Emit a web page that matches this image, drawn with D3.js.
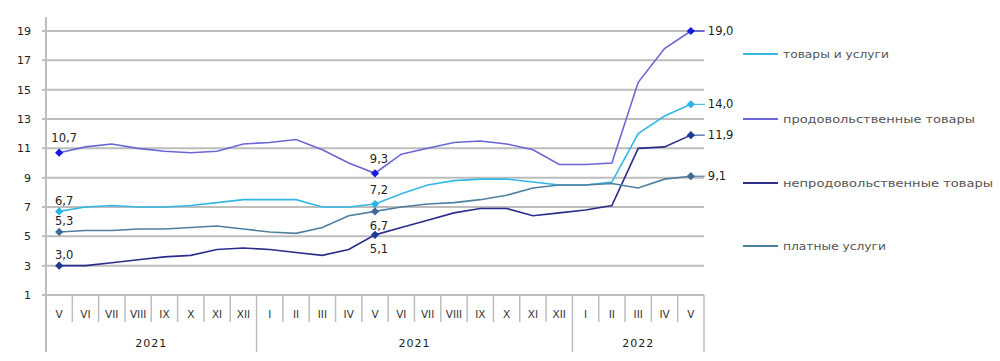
<!DOCTYPE html>
<html>
<head>
<meta charset="utf-8">
<script src="https://cdn.jsdelivr.net/npm/d3@7"></script>
<style>
  html, body { margin: 0; padding: 0; background: #fff; }
  svg { display: block; font-family: "DejaVu Sans", Verdana, sans-serif; }
</style>
</head>
<body>
<svg id="chart" width="1000" height="361"></svg>
<script>
// ---- data ----
const months = ["V","VI","VII","VIII","IX","X","XI","XII","I","II","III","IV","V","VI","VII","VIII","IX","X","XI","XII","I","II","III","IV","V"];
const yearLabels = ["2021", "2021", "2022"];
const yearSpans = [8, 12, 5];
const yTicks = [1, 3, 5, 7, 9, 11, 13, 15, 17, 19];

const seriesNames = ["товары и услуги", "продовольственные товары", "непродовольственные товары", "платные услуги"];
const goodsServices = [6.7, 7.0, 7.1, 7.0, 7.0, 7.1, 7.3, 7.5, 7.5, 7.5, 7.0, 7.0, 7.2, 7.9, 8.5, 8.8, 8.9, 8.9, 8.7, 8.5, 8.5, 8.7, 12.0, 13.2, 14.0];
const food = [10.7, 11.1, 11.3, 11.0, 10.8, 10.7, 10.8, 11.3, 11.4, 11.6, 10.9, 10.0, 9.3, 10.6, 11.0, 11.4, 11.5, 11.3, 10.9, 9.9, 9.9, 10.0, 15.5, 17.8, 19.0];
const nonFood = [3.0, 3.0, 3.2, 3.4, 3.6, 3.7, 4.1, 4.2, 4.1, 3.9, 3.7, 4.1, 5.1, 5.6, 6.1, 6.6, 6.9, 6.9, 6.4, 6.6, 6.8, 7.1, 11.0, 11.1, 11.9];
const paidServices = [5.3, 5.4, 5.4, 5.5, 5.5, 5.6, 5.7, 5.5, 5.3, 5.2, 5.6, 6.4, 6.7, 7.0, 7.2, 7.3, 7.5, 7.8, 8.3, 8.5, 8.5, 8.6, 8.3, 8.9, 9.1];
const labelledIdx = [0, 12, 24];

// ---- styles ----
const lineColors = ["#33b8e6", "#6a66d6", "#2c2c8c", "#4f7f9f"];
const markerColors = ["#2ab4ea", "#1a1ae0", "#1a3a94", "#3d6b96"];
// label placement per series for the middle point: above (-1) or below (+1)
const midSide = [-1, -1, 1, 1];

const svg = d3.select("#chart");
const values = [goodsServices, food, nonFood, paidServices];

const x = d3.scaleBand().domain(d3.range(months.length)).range([46, 704]).padding(0);
const y = d3.scaleLinear().domain([1, 19]).range([295, 31]);
const cx = i => x(i) + x.bandwidth() / 2;

// grid lines
svg.append("g").selectAll("line").data(yTicks).join("line")
  .attr("x1", 42).attr("x2", 704)
  .attr("y1", d => y(d)).attr("y2", d => y(d))
  .attr("stroke", "#bdbdbd").attr("stroke-width", 2);

// y axis labels
svg.append("g").selectAll("text").data(yTicks).join("text")
  .attr("x", 31).attr("y", d => y(d)).attr("dy", "0.36em")
  .attr("text-anchor", "end").attr("font-size", 11).attr("fill", "#222")
  .text(d => d);

// y axis line
svg.append("line").attr("x1", 46).attr("x2", 46).attr("y1", 17).attr("y2", 352)
  .attr("stroke", "#bdbdbd").attr("stroke-width", 2);

// category separators
const bounds = d3.range(1, months.length + 1);
const groupEnds = d3.cumsum(yearSpans);
svg.append("g").selectAll("line").data(bounds).join("line")
  .attr("x1", k => x(k - 1) + x.bandwidth()).attr("x2", k => x(k - 1) + x.bandwidth())
  .attr("y1", 295)
  .attr("y2", k => groupEnds.includes(k) ? 352 : 322)
  .attr("stroke", "#bdbdbd").attr("stroke-width", 1.5);

// month labels
svg.append("g").selectAll("text").data(months).join("text")
  .attr("x", (d, i) => cx(i)).attr("y", 314).attr("dy", "0.36em")
  .attr("text-anchor", "middle").attr("font-size", 10.5).attr("fill", "#333")
  .text(d => d);

// year labels
const groupStarts = [0, ...groupEnds.slice(0, -1)];
svg.append("g").selectAll("text").data(yearLabels).join("text")
  .attr("x", (d, g) => (x(groupStarts[g]) + x(groupEnds[g] - 1) + x.bandwidth()) / 2)
  .attr("y", 343).attr("dy", "0.36em")
  .attr("text-anchor", "middle").attr("font-size", 11).attr("fill", "#222")
  .attr("letter-spacing", 1)
  .text(d => d);

// lines
const line = d3.line().x((d, i) => cx(i)).y(d => y(d));
values.forEach((vals, s) => {
  svg.append("path").datum(vals).attr("d", line)
    .attr("fill", "none").attr("stroke", lineColors[s]).attr("stroke-width", 1.6);
});

// markers & labels
const diamond = d3.symbol().type(d3.symbolSquare).size(34);
const fmt = v => d3.format(".1f")(v).replace(".", ",");
values.forEach((vals, s) => {
  // leader tick to the right label
  svg.append("line")
    .attr("x1", cx(24)).attr("x2", cx(24) + 14)
    .attr("y1", y(vals[24])).attr("y2", y(vals[24]))
    .attr("stroke", markerColors[s]).attr("stroke-width", 1);
  svg.append("g").selectAll("path").data(labelledIdx).join("path")
    .attr("d", diamond)
    .attr("transform", i => `translate(${cx(i)},${y(vals[i])}) rotate(45)`)
    .attr("fill", markerColors[s]);
  svg.append("g").selectAll("text").data(labelledIdx).join("text")
    .attr("x", i => i === 24 ? cx(i) + 17 : (i === 0 ? cx(i) + 5 : cx(i) + 4))
    .attr("y", i => {
      if (i === 24) return y(vals[i]);
      if (i === 0) return y(vals[i]) - (s === 1 ? 15 : 11);
      return y(vals[i]) + midSide[s] * 14;
    })
    .attr("dy", "0.36em")
    .attr("text-anchor", i => i === 24 ? "start" : "middle")
    .attr("font-size", 11.5).attr("fill", "#222")
    .text(i => fmt(vals[i]));
});

// legend
const legendY = [54, 119, 183, 246];
const legendW = [106, 192, 210, 103];
const leg = svg.append("g").selectAll("g").data(seriesNames).join("g")
  .attr("transform", (d, i) => `translate(743,${legendY[i]})`);
leg.append("line").attr("x1", 0).attr("x2", 35).attr("y1", 0).attr("y2", 0)
  .attr("stroke", (d, i) => lineColors[i]).attr("stroke-width", 2);
leg.append("text").attr("x", 40).attr("dy", "0.36em")
  .attr("font-size", 10.5).attr("fill", "#555")
  .attr("textLength", (d, i) => legendW[i]).attr("lengthAdjust", "spacingAndGlyphs")
  .text(d => d);
</script>
</body>
</html>
